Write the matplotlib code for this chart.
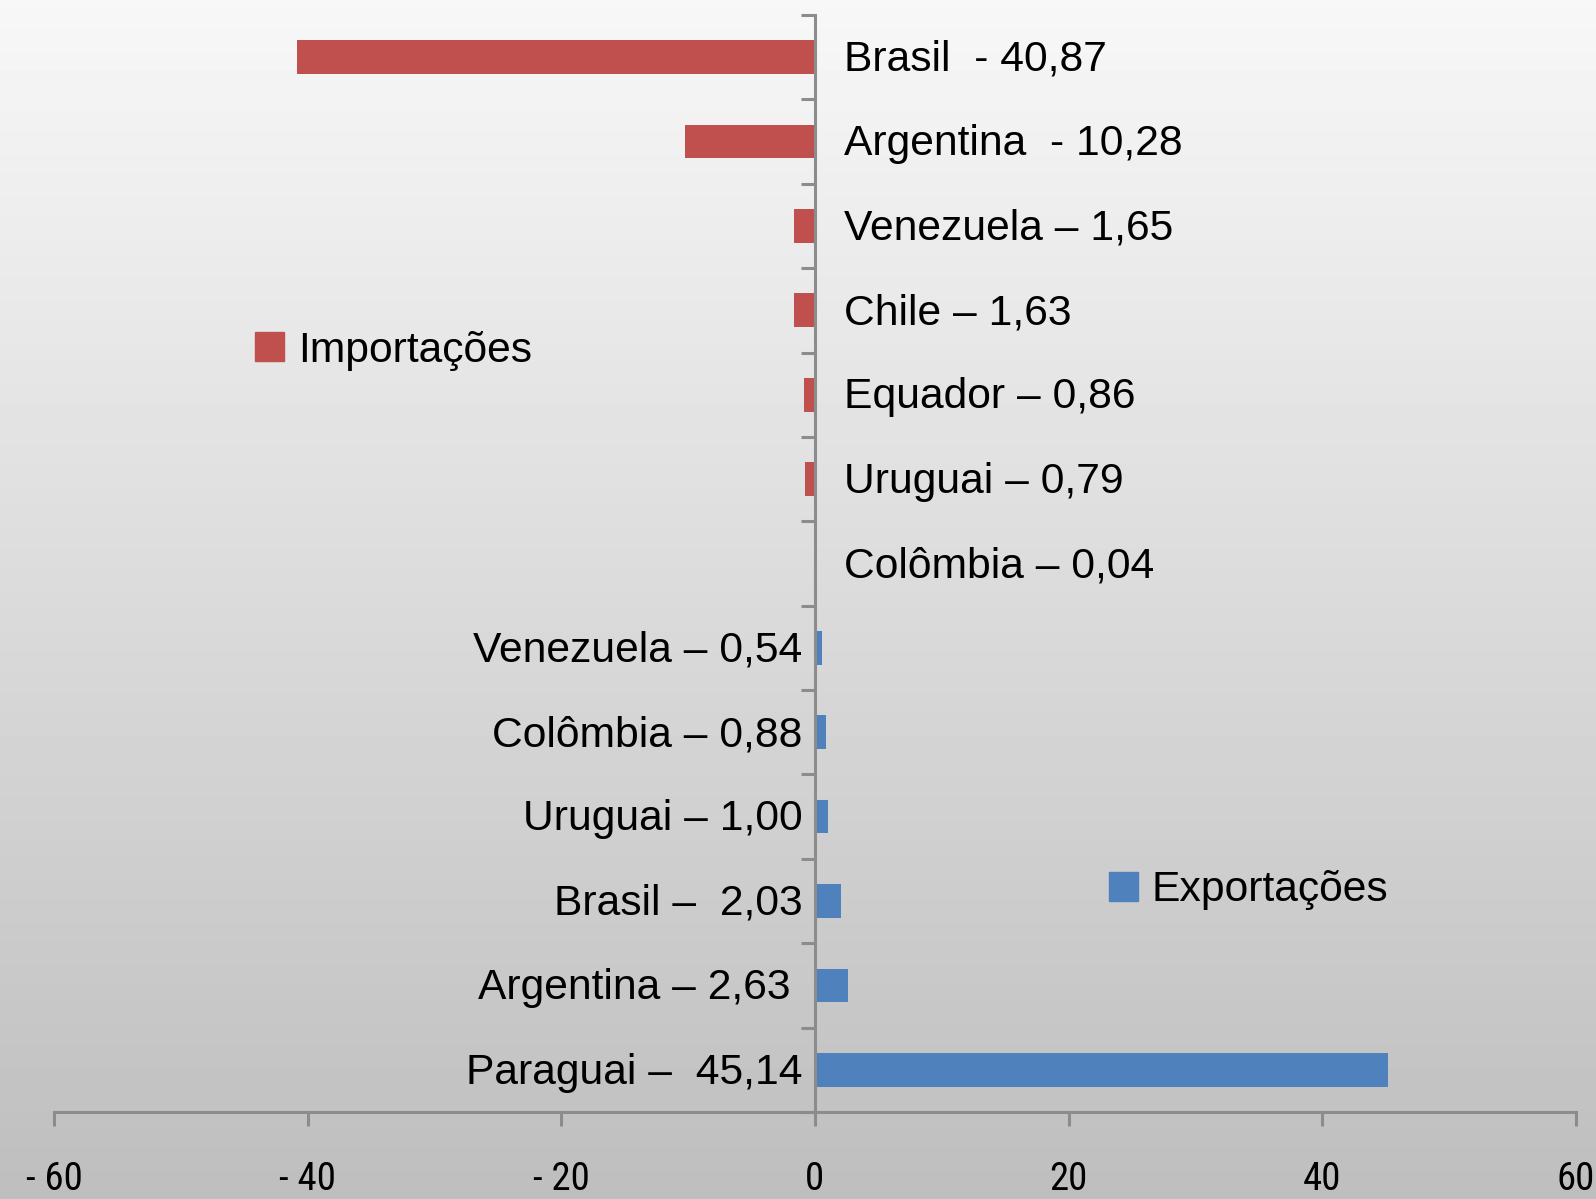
import numpy as np
import matplotlib
matplotlib.use("Agg")
import matplotlib.pyplot as plt
from matplotlib.patches import Patch
from matplotlib import font_manager

# data, top to bottom
labels = ["Brasil  - 40,87", "Argentina  - 10,28", "Venezuela – 1,65", "Chile – 1,63",
          "Equador – 0,86", "Uruguai – 0,79", "Colômbia – 0,04",
          "Venezuela – 0,54", "Colômbia – 0,88", "Uruguai – 1,00",
          "Brasil –  2,03", "Argentina – 2,63 ", "Paraguai –  45,14"]
values = [-40.87, -10.28, -1.65, -1.63, -0.86, -0.79, -0.04,
          0.54, 0.88, 1.00, 2.03, 2.63, 45.14]
xticks = [-60, -40, -20, 0, 20, 40, 60]
xticklabels = ["- 60", "- 40", "- 20", "0", "20", "40", "60"]

red = "#C0504D"
blue = "#4F81BD"
axis_gray = "#8C8C8C"

plt.rcParams["font.family"] = ["Liberation Sans", "DejaVu Sans"]

# narrow face for the axis numbers if one is around
installed = {f.name for f in font_manager.fontManager.ttflist}
narrow = [n for n in ["Liberation Sans Narrow", "Arial Narrow", "Roboto Condensed",
                      "Open Sans Condensed"] if n in installed]
tick_family = narrow + ["Liberation Sans"]

fig = plt.figure(figsize=(15.96, 11.99), dpi=100)

# gradient background
bg = fig.add_axes([0, 0, 1, 1], zorder=-10)
grad = np.linspace(0.970, 0.745, 256).reshape(-1, 1)
bg.imshow(grad, cmap="gray", vmin=0, vmax=1, aspect="auto", extent=[0, 1, 0, 1])
bg.set_axis_off()

ax = fig.add_axes([0.0338, 0.0726, 0.9537, 0.9149])
ax.set_facecolor("none")

y = np.arange(len(values))
colors = [red if v < 0 else blue for v in values]
ax.barh(y, values, height=0.4, color=colors, zorder=2)

ax.set_xlim(-60, 60)
ax.set_ylim(len(values) - 0.5, -0.5)

ax.spines["top"].set_visible(False)
ax.spines["right"].set_visible(False)
ax.spines["left"].set_position(("data", 0))
for s in ("left", "bottom"):
    ax.spines[s].set_color(axis_gray)
    ax.spines[s].set_linewidth(2.2)
    ax.spines[s].set_zorder(3)

ax.set_yticks(np.arange(len(values) + 1) - 0.5)
ax.set_yticklabels([])
ax.tick_params(axis="y", length=10, width=2.2, color=axis_gray, direction="out")

ax.set_xticks(xticks)
ax.set_xticklabels(xticklabels, family=tick_family, fontsize=28)
ax.tick_params(axis="x", length=10, width=2.2, color=axis_gray, direction="out", pad=25)

for yi, v, lab in zip(y, values, labels):
    if v < 0:
        ax.annotate(lab, xy=(0, yi), xytext=(21, -2), textcoords="offset points",
                    ha="left", va="center", fontsize=30.7)
    else:
        ax.annotate(lab, xy=(0, yi), xytext=(-9, -2), textcoords="offset points",
                    ha="right", va="center", fontsize=30.7)

leg1 = ax.legend(handles=[Patch(color=red, label="Importações")],
                 loc="center left", bbox_to_anchor=(0.132, 0.694),
                 frameon=False, fontsize=30.7, borderpad=0, borderaxespad=0,
                 handlelength=0.68, handleheight=0.68, handletextpad=0.33)
ax.add_artist(leg1)
ax.legend(handles=[Patch(color=blue, label="Exportações")],
          loc="center left", bbox_to_anchor=(0.693, 0.202),
          frameon=False, fontsize=30.7, borderpad=0, borderaxespad=0,
          handlelength=0.68, handleheight=0.68, handletextpad=0.33)

fig.savefig("out.png", dpi=100)
plt.close(fig)
